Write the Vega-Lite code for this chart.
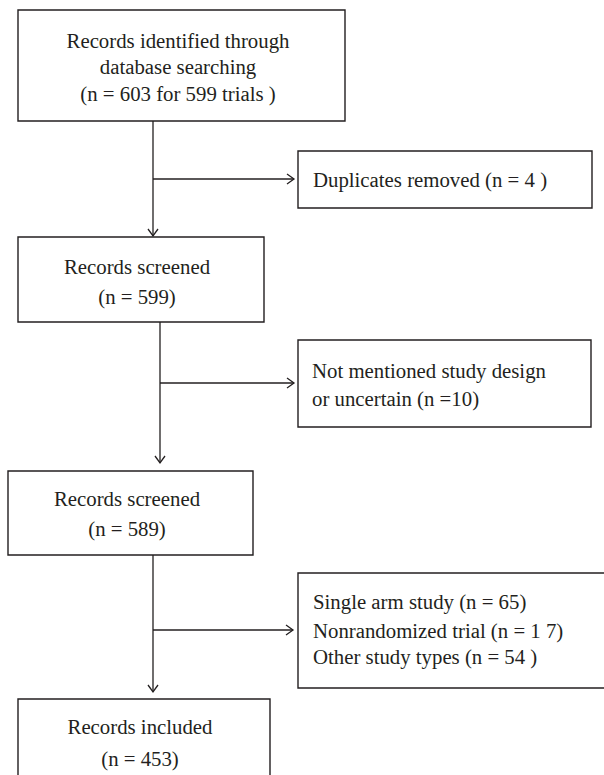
{
  "$schema": "https://vega.github.io/schema/vega-lite/v6.json",
  "width": 604,
  "height": 775,
  "padding": 0,
  "autosize": {"type": "none"},
  "background": "white",
  "config": {"view": {"stroke": null}},
  "datasets": {
    "boxes": [
      {"id": "identified", "role": "main", "x1": 18, "x2": 345, "y1": 10, "y2": 121},
      {"id": "duplicates", "role": "excluded", "x1": 298, "x2": 592, "y1": 151, "y2": 208},
      {"id": "screened1", "role": "main", "x1": 18, "x2": 264, "y1": 237, "y2": 322},
      {"id": "notmentioned", "role": "excluded", "x1": 298, "x2": 591, "y1": 340, "y2": 427},
      {"id": "screened2", "role": "main", "x1": 8, "x2": 253, "y1": 471, "y2": 555},
      {"id": "othertypes", "role": "excluded", "x1": 298, "x2": 612, "y1": 573, "y2": 688},
      {"id": "included", "role": "main", "x1": 18, "x2": 270, "y1": 699, "y2": 790}
    ],
    "links": [
      {"dir": "down", "x1": 153, "y1": 121, "x2": 153, "y2": 236},
      {"dir": "right", "x1": 153, "y1": 179, "x2": 294, "y2": 179},
      {"dir": "down", "x1": 160, "y1": 322, "x2": 160, "y2": 463},
      {"dir": "right", "x1": 160, "y1": 383, "x2": 294, "y2": 383},
      {"dir": "down", "x1": 153, "y1": 555, "x2": 153, "y2": 692},
      {"dir": "right", "x1": 153, "y1": 630, "x2": 293, "y2": 630}
    ],
    "labels": [
      {"role": "main", "x": 178, "y": 42, "text": "Records identified through"},
      {"role": "main", "x": 178, "y": 68, "text": "database searching"},
      {"role": "main", "x": 178, "y": 95, "text": "(n = 603 for 599 trials )"},
      {"role": "excluded", "x": 313, "y": 181, "text": "Duplicates removed  (n = 4 )"},
      {"role": "main", "x": 137, "y": 268, "text": "Records screened"},
      {"role": "main", "x": 137, "y": 298, "text": "(n = 599)"},
      {"role": "excluded", "x": 312, "y": 372, "text": "Not mentioned study design"},
      {"role": "excluded", "x": 312, "y": 400, "text": "or uncertain  (n =10)"},
      {"role": "main", "x": 127, "y": 500, "text": "Records screened"},
      {"role": "main", "x": 127, "y": 530, "text": "(n = 589)"},
      {"role": "excluded", "x": 313, "y": 603, "text": "Single arm study  (n =  65)"},
      {"role": "excluded", "x": 313, "y": 632, "text": "Nonrandomized trial (n = 1 7)"},
      {"role": "excluded", "x": 313, "y": 658, "text": "Other study types (n = 54 )"},
      {"role": "main", "x": 140, "y": 728, "text": "Records included"},
      {"role": "main", "x": 140, "y": 760, "text": "(n = 453)"}
    ]
  },
  "layer": [
    {
      "data": {"name": "boxes"},
      "mark": {"type": "rect", "fill": "white", "stroke": "#231f20", "strokeWidth": 1.4},
      "encoding": {
        "x": {"field": "x1", "type": "quantitative", "scale": {"domain": [0, 604], "nice": false, "zero": false}, "axis": null},
        "x2": {"field": "x2"},
        "y": {"field": "y1", "type": "quantitative", "scale": {"domain": [0, 775], "nice": false, "zero": false, "reverse": true}, "axis": null},
        "y2": {"field": "y2"}
      }
    },
    {
      "data": {"name": "links"},
      "mark": {"type": "rule", "color": "#231f20", "strokeWidth": 1.3},
      "encoding": {
        "x": {"field": "x1", "type": "quantitative", "scale": {"domain": [0, 604], "nice": false, "zero": false}, "axis": null},
        "x2": {"field": "x2"},
        "y": {"field": "y1", "type": "quantitative", "scale": {"domain": [0, 775], "nice": false, "zero": false, "reverse": true}, "axis": null},
        "y2": {"field": "y2"}
      }
    },
    {
      "data": {"name": "links"},
      "transform": [{"filter": "datum.dir === 'down'"}],
      "mark": {"type": "point", "shape": "M-1,-1.4L0,0L1,-1.4", "size": 100, "filled": false, "color": "#231f20", "strokeWidth": 1.3, "opacity": 1},
      "encoding": {
        "x": {"field": "x2", "type": "quantitative", "scale": {"domain": [0, 604], "nice": false, "zero": false}, "axis": null},
        "y": {"field": "y2", "type": "quantitative", "scale": {"domain": [0, 775], "nice": false, "zero": false, "reverse": true}, "axis": null}
      }
    },
    {
      "data": {"name": "links"},
      "transform": [{"filter": "datum.dir === 'right'"}],
      "mark": {"type": "point", "shape": "M-1.4,-1L0,0L-1.4,1", "size": 100, "filled": false, "color": "#231f20", "strokeWidth": 1.3, "opacity": 1},
      "encoding": {
        "x": {"field": "x2", "type": "quantitative", "scale": {"domain": [0, 604], "nice": false, "zero": false}, "axis": null},
        "y": {"field": "y2", "type": "quantitative", "scale": {"domain": [0, 775], "nice": false, "zero": false, "reverse": true}, "axis": null}
      }
    },
    {
      "data": {"name": "labels"},
      "transform": [{"filter": "datum.role === 'main'"}],
      "mark": {"type": "text", "align": "center", "baseline": "middle", "font": "Liberation Serif", "fontSize": 20.8, "color": "#231f20"},
      "encoding": {
        "x": {"field": "x", "type": "quantitative", "scale": {"domain": [0, 604], "nice": false, "zero": false}, "axis": null},
        "y": {"field": "y", "type": "quantitative", "scale": {"domain": [0, 775], "nice": false, "zero": false, "reverse": true}, "axis": null},
        "text": {"field": "text"}
      }
    },
    {
      "data": {"name": "labels"},
      "transform": [{"filter": "datum.role === 'excluded'"}],
      "mark": {"type": "text", "align": "left", "baseline": "middle", "font": "Liberation Serif", "fontSize": 20.8, "color": "#231f20"},
      "encoding": {
        "x": {"field": "x", "type": "quantitative", "scale": {"domain": [0, 604], "nice": false, "zero": false}, "axis": null},
        "y": {"field": "y", "type": "quantitative", "scale": {"domain": [0, 775], "nice": false, "zero": false, "reverse": true}, "axis": null},
        "text": {"field": "text"}
      }
    }
  ]
}
